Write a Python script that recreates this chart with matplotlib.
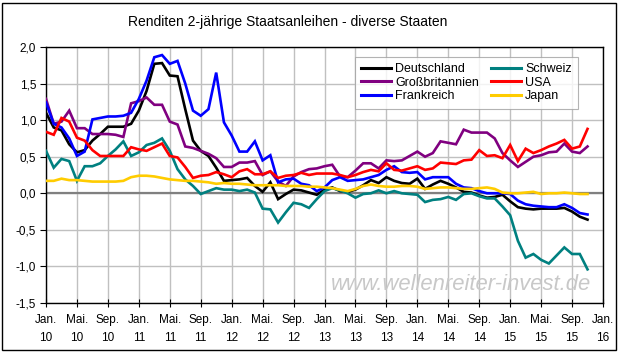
import matplotlib
matplotlib.use("Agg")
import matplotlib.pyplot as plt
import matplotlib.transforms as mtransforms
import numpy as np

plt.rcParams['font.family'] = ['Liberation Sans', 'DejaVu Sans']

# Monthly data, Jan 2010 (index 0) .. Nov 2015 (index 70)
deutschland = [1.10, 0.90, 0.86, 0.67, 0.56, 0.59, 0.72, 0.81, 0.91, 0.91,
               0.91, 0.95, 1.13, 1.40, 1.77, 1.78, 1.61, 1.60, 1.15, 0.72,
               0.58, 0.51, 0.35, 0.17, 0.18, 0.19, 0.21, 0.10, 0.02, 0.15,
               -0.08, -0.01, 0.05, 0.04, 0.01, -0.02, 0.05, 0.08, 0.03, 0.02,
               0.05, 0.11, 0.18, 0.14, 0.22, 0.17, 0.14, 0.13, 0.20, 0.06,
               0.12, 0.17, 0.13, 0.08, 0.02, 0.01, -0.03, -0.06, -0.05, -0.02,
               -0.11, -0.19, -0.21, -0.22, -0.21, -0.21, -0.21, -0.20, -0.25, -0.32,
               -0.36]
schweiz = [0.58, 0.35, 0.47, 0.44, 0.17, 0.37, 0.37, 0.41, 0.51, 0.60,
           0.71, 0.51, 0.56, 0.66, 0.69, 0.75, 0.58, 0.33, 0.19, 0.10,
           -0.01, 0.03, 0.07, 0.05, 0.05, 0.03, 0.05, 0.01, -0.21, -0.22,
           -0.40, -0.26, -0.13, -0.15, -0.20, -0.08, 0.03, 0.07, 0.04, 0.00,
           -0.06, -0.01, 0.00, 0.04, 0.00, 0.03, 0.00, -0.01, -0.02, -0.12,
           -0.09, -0.08, -0.05, -0.09, -0.01, 0.00, -0.04, -0.07, -0.07, -0.18,
           -0.30, -0.65, -0.88, -0.83, -0.91, -0.96, -0.85, -0.74, -0.83, -0.83,
           -1.04]
grossbritannien = [1.29, 0.95, 0.98, 1.13, 0.89, 0.89, 0.81, 0.81, 0.81, 0.80,
                   0.77, 1.23, 1.26, 1.31, 1.21, 1.21, 0.98, 0.94, 0.64, 0.62,
                   0.58, 0.54, 0.48, 0.36, 0.36, 0.42, 0.42, 0.44, 0.25, 0.30,
                   0.16, 0.10, 0.23, 0.29, 0.33, 0.34, 0.37, 0.39, 0.23, 0.22,
                   0.31, 0.41, 0.41, 0.34, 0.45, 0.44, 0.45, 0.51, 0.57, 0.50,
                   0.55, 0.71, 0.69, 0.67, 0.87, 0.83, 0.83, 0.83, 0.75, 0.55,
                   0.45, 0.36, 0.43, 0.50, 0.52, 0.56, 0.57, 0.68, 0.57, 0.55,
                   0.64]
usa = [0.84, 0.80, 1.03, 0.98, 0.76, 0.72, 0.59, 0.51, 0.51, 0.51,
       0.51, 0.63, 0.60, 0.58, 0.63, 0.68, 0.51, 0.49, 0.36, 0.21,
       0.24, 0.25, 0.29, 0.26, 0.22, 0.30, 0.33, 0.26, 0.26, 0.30,
       0.21, 0.24, 0.25, 0.28, 0.25, 0.27, 0.27, 0.27, 0.25, 0.22,
       0.25, 0.29, 0.32, 0.30, 0.41, 0.32, 0.31, 0.34, 0.37, 0.32,
       0.34, 0.42, 0.41, 0.40, 0.45, 0.46, 0.59, 0.51, 0.52, 0.48,
       0.66, 0.44, 0.61, 0.55, 0.59, 0.64, 0.68, 0.73, 0.61, 0.64,
       0.88]
frankreich = [1.24, 0.95, 0.90, 0.75, 0.51, 0.57, 1.01, 1.03, 1.05, 1.05,
              1.06, 1.10, 1.29, 1.54, 1.86, 1.89, 1.77, 1.81, 1.50, 1.13,
              1.06, 1.15, 1.65, 0.97, 0.79, 0.57, 0.57, 0.71, 0.45, 0.52,
              0.15, 0.19, 0.20, 0.13, 0.11, 0.03, 0.08, 0.18, 0.22, 0.17,
              0.18, 0.19, 0.22, 0.25, 0.32, 0.37, 0.29, 0.28, 0.29, 0.19,
              0.22, 0.22, 0.22, 0.13, 0.08, 0.07, 0.03, 0.00, 0.00, 0.00,
              -0.01, -0.10, -0.15, -0.17, -0.18, -0.19, -0.19, -0.15, -0.20, -0.27,
              -0.29]
japan = [0.17, 0.17, 0.20, 0.18, 0.18, 0.17, 0.16, 0.16, 0.16, 0.16,
         0.17, 0.22, 0.24, 0.24, 0.23, 0.21, 0.19, 0.18, 0.17, 0.17,
         0.16, 0.15, 0.13, 0.14, 0.13, 0.13, 0.12, 0.11, 0.11, 0.11,
         0.11, 0.10, 0.10, 0.10, 0.09, 0.09, 0.08, 0.07, 0.05, 0.03,
         0.06, 0.10, 0.12, 0.10, 0.09, 0.09, 0.10, 0.10, 0.09, 0.06,
         0.07, 0.08, 0.08, 0.07, 0.06, 0.06, 0.07, 0.08, 0.06, 0.01,
         0.00, 0.00, 0.01, 0.02, -0.01, 0.00, 0.00, 0.01, 0.00, -0.01,
         -0.01]

month_labels = ["Jan.", "Mai.", "Sep."] * 6 + ["Jan."]
year_labels = ["10", "10", "10", "11", "11", "11", "12", "12", "12",
               "13", "13", "13", "14", "14", "14", "15", "15", "15", "16"]
y_ticks = [-1.5, -1.0, -0.5, 0.0, 0.5, 1.0, 1.5, 2.0]

W, H = 619, 352
fig = plt.figure(figsize=(W / 100, H / 100), dpi=100)
fig.patch.set_facecolor('white')
# outer chart border
fig.patches.append(plt.Rectangle((2 / W, 2 / H), (W - 5) / W, (H - 5) / H,
                                 transform=fig.transFigure, fill=False,
                                 edgecolor='black', linewidth=1.0))

left, right, top, bottom = 46, 603, 47, 303
ax = fig.add_axes([left / W, 1 - bottom / H, (right - left) / W, (bottom - top) / H])

x = np.arange(len(deutschland))
lw = 1.9
series = [
    ("Deutschland", deutschland, "#000000"),
    ("Großbritannien", grossbritannien, "#800080"),
    ("Frankreich", frankreich, "#0000ff"),
    ("Schweiz", schweiz, "#008080"),
    ("USA", usa, "#ff0000"),
    ("Japan", japan, "#ffcc00"),
]

ax.axhline(0, color='#808080', linewidth=1.6, zorder=2)
handles = []
for name, vals, col in series:
    h, = ax.plot(x, vals, color=col, linewidth=lw, label=name, zorder=3,
                 solid_joinstyle='miter')
    handles.append(h)

ax.set_xlim(0, 72)
ax.set_ylim(-1.5, 2.0)
xt = np.arange(0, 73, 4)
ax.set_xticks(xt)
ax.set_xticklabels(month_labels, fontsize=8.5)
trans = mtransforms.blended_transform_factory(ax.transData, ax.transAxes)
for pos, yl in zip(xt, year_labels):
    ax.annotate(yl, xy=(pos, 0), xycoords=trans, xytext=(0, -35 * 0.72),
                textcoords='offset points', ha='center', va='center',
                fontsize=8.5, annotation_clip=False)
ax.set_yticks(y_ticks)
ax.set_yticklabels([f"{v:.1f}".replace('.', ',') for v in y_ticks], fontsize=8.5)
ax.grid(True, color='#c0c0c0', linewidth=1.0, zorder=0)
ax.set_axisbelow(True)
for sp in ax.spines.values():
    sp.set_color('black')
    sp.set_linewidth(1.0)
ax.tick_params(axis='x', direction='inout', length=6, pad=5, colors='black')
ax.tick_params(axis='y', direction='out', length=4, pad=3, colors='black')

leg = ax.legend(handles=handles, ncol=2, loc='upper left',
                bbox_to_anchor=((355 - left) / (right - left), 1 - (57 - top) / (bottom - top)),
                prop={'size': 9}, frameon=True, fancybox=False, edgecolor='#a0a0a0',
                handlelength=2.4, handletextpad=0.3, columnspacing=1.0,
                labelspacing=0.12, borderpad=0.5, borderaxespad=0)
leg.get_frame().set_linewidth(0.8)
for line in leg.get_lines():
    line.set_linewidth(2.2)

fig.text(288 / W, 1 - 22 / H, "Renditen 2-jährige Staatsanleihen - diverse Staaten",
         ha='center', va='center', fontsize=10)
fig.text(461 / W, 1 - 285 / H, "www.wellenreiter-invest.de", ha='center', va='center',
         fontsize=15.8, style='italic', color='#c8c8c8', zorder=1)

fig.savefig("out.png", dpi=100, facecolor='white')
